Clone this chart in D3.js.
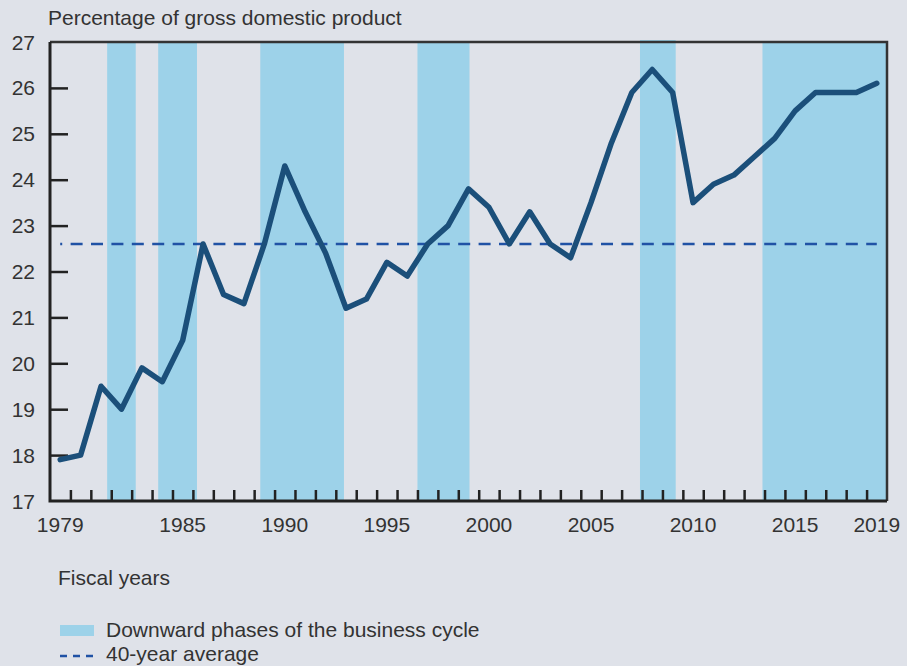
<!DOCTYPE html>
<html><head><meta charset="utf-8">
<script src="https://cdn.jsdelivr.net/npm/d3@7"></script>
<style>
html,body{margin:0;padding:0;background:#dfe2e9;}
svg{display:block;}
text{font-family:"Liberation Sans",Arial,Helvetica,sans-serif;fill:#333;}
</style></head>
<body><svg id="chart" width="907" height="666"></svg>
<script>
const years = d3.range(1979, 2020);
const values = [17.9,18.0,19.5,19.0,19.9,19.6,20.5,22.6,21.5,21.3,
  22.6,24.3,23.3,22.4,21.2,21.4,22.2,21.9,22.6,23.0,
  23.8,23.4,22.6,23.3,22.6,22.3,23.5,24.8,25.9,26.4,
  25.9,23.5,23.9,24.1,24.5,24.9,25.5,25.9,25.9,25.9,26.1];
const bandStarts = [1981.3,1983.8,1988.8,1996.5,2007.4,2013.4];
const bandEnds   = [1982.7,1985.7,1992.9,1999.05,2009.15,2019.5];
const average = 22.6;
const yTicks = [17,18,19,20,21,22,23,24,25,26,27];
const xLabels = [1979,1985,1990,1995,2000,2005,2010,2015,2019];
const titleText = "Percentage of gross domestic product";
const xTitle = "Fiscal years";
const legendBand = "Downward phases of the business cycle";
const legendAvg = "40-year average";

const svg = d3.select("#chart");
const L=50, R=887, T=42, B=501;
const FS = 21;
const x = d3.scaleLinear().domain([1978.5, 2019.5]).range([L, R]);
const y = d3.scaleLinear().domain([17, 27]).range([B, T]);

// bands
svg.append("g").selectAll("rect").data(bandStarts).join("rect")
  .attr("x", (d)=>x(d)).attr("y", (d,i)=> i===4 ? T-2 : T)
  .attr("width", (d,i)=>x(bandEnds[i])-x(d)).attr("height", (d,i)=> i===4 ? B-T+2 : B-T)
  .attr("fill", "#9dd2e9");

// frame top/right
svg.append("path").attr("d", `M${L},${T}H${R}V${B}`)
  .attr("fill","none").attr("stroke","#333").attr("stroke-width",2.5);

// y axis
const yAxis = d3.axisRight(y).tickValues(yTicks.slice(1,-1)).tickSize(18).tickFormat("");
const gy = svg.append("g").attr("transform", `translate(${L},0)`).call(yAxis);
gy.select(".domain").remove();
gy.selectAll("line").attr("stroke","#222").attr("stroke-width",2.5);
svg.append("g").selectAll("text").data(yTicks).join("text")
  .attr("x", 35).attr("y", d=>y(d)).attr("dy","0.36em")
  .attr("text-anchor","end").attr("font-size",FS).text(d=>d);

// x axis ticks
const xTickVals = d3.range(1979.5, 2019, 1);
const xAxis = d3.axisTop(x).tickValues(xTickVals).tickSize(11).tickFormat("");
const gx = svg.append("g").attr("transform", `translate(0,${B})`).call(xAxis);
gx.select(".domain").remove();
gx.selectAll("line").attr("stroke","#222").attr("stroke-width",2.5);
svg.append("g").selectAll("text").data(xLabels).join("text")
  .attr("x", d=>x(d)).attr("y", 532)
  .attr("text-anchor","middle").attr("font-size",FS).text(d=>d);

// axis lines
svg.append("path").attr("d", `M${L},${T}V${B}H${R}`)
  .attr("fill","none").attr("stroke","#222").attr("stroke-width",3);

// average line
svg.append("line").attr("x1", x(1979)).attr("x2", x(2019))
  .attr("y1", y(average)).attr("y2", y(average))
  .attr("stroke","#2052a5").attr("stroke-width",2.5)
  .attr("stroke-dasharray","12,8.4").attr("stroke-dashoffset", 10);

// data line
svg.append("path").datum(values)
  .attr("d", d3.line().x((d,i)=>x(years[i])).y(d=>y(d)))
  .attr("fill","none").attr("stroke","#1b4f7a").attr("stroke-width",5.5)
  .attr("stroke-linejoin","round").attr("stroke-linecap","round");

// titles
svg.append("text").attr("x", 48).attr("y", 25).attr("font-size",FS).text(titleText);
svg.append("text").attr("x", 58).attr("y", 585).attr("font-size",FS).text(xTitle);

// legend
svg.append("rect").attr("x",60).attr("y",625).attr("width",34).attr("height",11).attr("fill","#9dd2e9");
svg.append("text").attr("x",106).attr("y",637).attr("font-size",FS).text(legendBand);
svg.append("line").attr("x1",60).attr("x2",94).attr("y1",656).attr("y2",656)
  .attr("stroke","#2052a5").attr("stroke-width",2.5).attr("stroke-dasharray","7,6");
svg.append("text").attr("x",106).attr("y",661).attr("font-size",FS).text(legendAvg);
</script></body></html>
